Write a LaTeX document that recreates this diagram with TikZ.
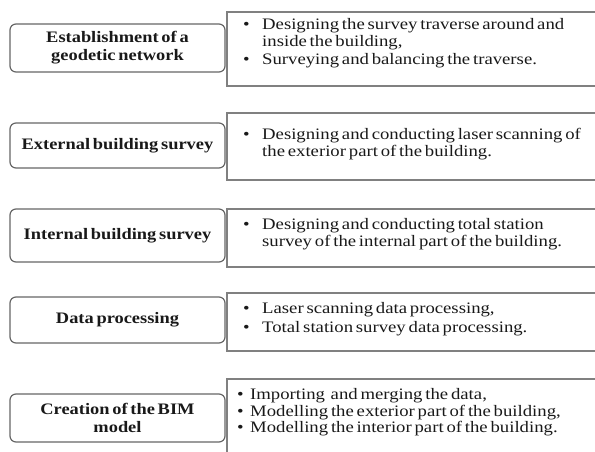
\documentclass[tikz,border=0pt]{standalone}
\usepackage{fontspec}
\setmainfont{Liberation Serif}[FakeStretch=1.15,WordSpace=0.6]
\newfontfamily\taskfont{Liberation Serif}[FakeStretch=1.17,WordSpace=0.6]
\tikzset{
  stage/.style={draw=black!60, line width=1.2pt, rounded corners=6pt,
    minimum width=215pt, inner sep=2pt, align=center,
    font=\fontsize{16}{18}\selectfont\bfseries, text=black!90},
  taskbox/.style={draw=black!50, line width=1.6pt, minimum width=380pt,
    anchor=north west},
  tasktext/.style={anchor=west, inner sep=0pt,
    font=\taskfont\fontsize{16}{16.5}\selectfont, text=black!90},
}
\newcommand{\tasklist}[2][19pt]{\begin{tabular}{@{}p{#1}@{}l@{}}#2\end{tabular}}
\begin{document}
\begin{tikzpicture}[x=1pt,y=-1pt]
    \useasboundingbox (0,0) rectangle (595,451);
    \clip (0,0) rectangle (595,451);

    % task boxes on the right
    \node[taskbox, minimum height=74pt] (r1) at (226,11) {};
    \node[taskbox, minimum height=67pt] (r2) at (226,112) {};
    \node[taskbox, minimum height=58pt] (r3) at (226,208) {};
    \node[taskbox, minimum height=58pt] (r4) at (226,292) {};
    \node[taskbox, minimum height=90pt] (r5) at (226,378) {};

    \node[tasktext] (t1) at (243,44) {\tasklist{%
        \textbullet & Designing the survey traverse around and\\
                    & inside the building,\\[2pt]
        \textbullet & Surveying and balancing the traverse.}};
    \node[tasktext] (t2) at (243,144.5) {\tasklist{%
        \textbullet & Designing and conducting laser scanning of\\
                    & the exterior part of the building.}};
    \node[tasktext] (t3) at (243,234.5) {\tasklist{%
        \textbullet & Designing and conducting total station\\
                    & survey of the internal part of the building.}};
    \node[tasktext] (t4) at (243,319.5) {\tasklist{%
        \textbullet & Laser scanning data processing,\\[2pt]
        \textbullet & Total station survey data processing.}};
    \node[tasktext] (t5) at (237,413) {\tasklist[13pt]{%
        \textbullet & Importing\ \ and merging the data,\\
        \textbullet & Modelling the exterior part of the building,\\
        \textbullet & Modelling the interior part of the building.}};

    % stages on the left
    \node[stage, minimum height=48pt] (s1) at (117.5,48) {Establishment of a\\geodetic network};
    \node[stage, minimum height=45pt] (s2) at (117.5,145.5) {External building survey};
    \node[stage, minimum height=53pt] (s3) at (117.5,235.5) {Internal building survey};
    \node[stage, minimum height=46pt] (s4) at (117.5,320) {Data processing};
    \node[stage, minimum height=48pt] (s5) at (117.5,418) {Creation of the BIM\\model};
\end{tikzpicture}
\end{document}
